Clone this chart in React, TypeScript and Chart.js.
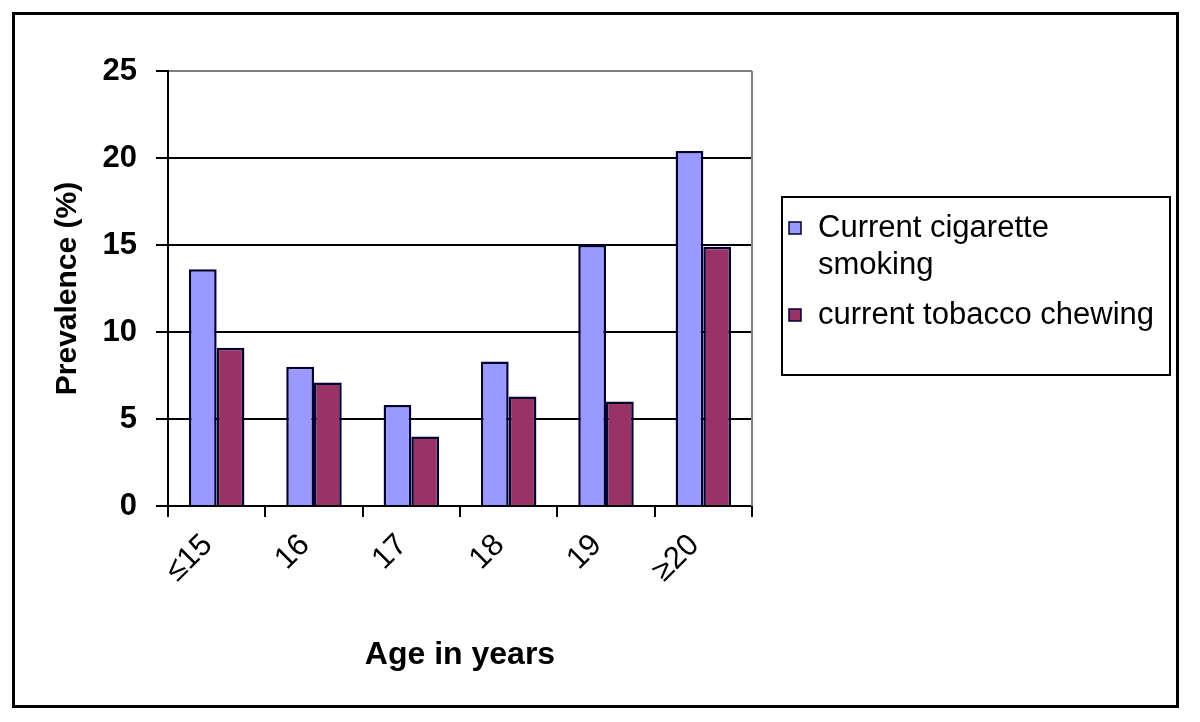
import React, { useEffect, useRef } from "react";
import { Chart, registerables } from "chart.js";

Chart.register(...registerables);

const categories = ["≤15", "16", "17", "18", "19", "≥20"];
const smokingValues = [13.6, 8.0, 5.8, 8.3, 15.0, 20.4];
const chewingValues = [9.1, 7.1, 4.0, 6.3, 6.0, 14.9];
const seriesNames = ["Current cigarette smoking", "current tobacco chewing"];
const seriesColors = ["#9999FF", "#993366"];
const yTicks = [0, 5, 10, 15, 20, 25];

const FONT = "'Liberation Sans', Arial, sans-serif";

const framePlugin = {
  id: "frameAndLegend",
  beforeDraw(chart: any) {
    const { ctx, width, height } = chart;
    ctx.save();
    ctx.fillStyle = "#ffffff";
    ctx.fillRect(0, 0, width, height);
    ctx.restore();
  },
  afterDraw(chart: any) {
    const { ctx, chartArea } = chart;
    ctx.save();
    // gray right border of plot area
    ctx.strokeStyle = "#808080";
    ctx.lineWidth = 2;
    ctx.beginPath();
    ctx.moveTo(chartArea.right, chartArea.top);
    ctx.lineTo(chartArea.right, chartArea.bottom);
    ctx.stroke();

    // outer frame
    ctx.strokeStyle = "#000000";
    ctx.lineWidth = 3;
    ctx.strokeRect(13.5, 13.5, 1164, 693);

    // legend box
    const lx = 782, ly = 197, lw = 388, lh = 178;
    ctx.lineWidth = 2;
    ctx.strokeRect(lx, ly, lw, lh);

    ctx.font = `31px ${FONT}`;
    ctx.textBaseline = "middle";
    ctx.textAlign = "left";
    const textX = 818;
    const maxW = 345;
    const lineH = 37;
    let y = 228;
    chart.data.datasets.forEach((ds: any) => {
      const words = String(ds.label).split(" ");
      const lines: string[] = [];
      let cur = "";
      words.forEach((w) => {
        const test = cur ? cur + " " + w : w;
        if (ctx.measureText(test).width > maxW && cur) {
          lines.push(cur);
          cur = w;
        } else cur = test;
      });
      if (cur) lines.push(cur);
      // swatch
      ctx.fillStyle = ds.backgroundColor;
      ctx.fillRect(789, y - 6, 12, 12);
      ctx.strokeStyle = "#000033";
      ctx.lineWidth = 1.5;
      ctx.strokeRect(789, y - 6, 12, 12);
      ctx.fillStyle = "#000000";
      lines.forEach((ln, k) => {
        ctx.fillText(ln, textX, y + k * lineH);
      });
      y += lines.length * lineH + 13;
    });
    ctx.restore();
  },
};

export default function App() {
  const canvasRef = useRef<HTMLCanvasElement | null>(null);

  useEffect(() => {
    if (!canvasRef.current) return;
    const chart = new Chart(canvasRef.current, {
      type: "bar",
      data: {
        labels: categories,
        datasets: [
          {
            label: seriesNames[0],
            data: smokingValues,
            backgroundColor: seriesColors[0],
            borderColor: "#000033",
            borderWidth: 2.5,
          },
          {
            label: seriesNames[1],
            data: chewingValues,
            backgroundColor: seriesColors[1],
            borderColor: "#000033",
            borderWidth: 2.5,
          },
        ],
      },
      options: {
        animation: false,
        responsive: true,
        maintainAspectRatio: false,
        devicePixelRatio: 1,
        layout: { padding: { left: 0, top: 71, right: 448, bottom: 0 } },
        datasets: {
          bar: { categoryPercentage: 0.57, barPercentage: 1.0 },
        },
        plugins: {
          legend: { display: false },
          tooltip: { enabled: false },
        },
        scales: {
          x: {
            afterFit: (s: any) => {
              s.height = 216;
            },
            grid: {
              offset: true,
              drawOnChartArea: false,
              color: "#000000",
              lineWidth: 2,
              tickLength: 11,
            },
            border: { color: "#000000", width: 2 },
            ticks: {
              minRotation: 45,
              maxRotation: 45,
              color: "#000000",
              padding: 10,
              labelOffset: -9,
              font: { family: FONT, size: 31 },
            },
            title: {
              display: true,
              text: "Age in years",
              color: "#000000",
              font: { family: FONT, size: 32, weight: "bold" },
              padding: { top: 0, bottom: 48 },
            },
          },
          y: {
            min: 0,
            max: 25,
            afterFit: (s: any) => {
              s.width = 168;
            },
            afterBuildTicks: (s: any) => {
              s.ticks = yTicks.map((v) => ({ value: v }));
            },
            grid: {
              color: (c: any) => (c.tick && c.tick.value === 25 ? "#808080" : "#000000"),
              tickColor: "#000000",
              lineWidth: 2,
              tickLength: 12,
            },
            border: { color: "#000000", width: 2 },
            ticks: {
              color: "#000000",
              padding: 19,
              font: { family: FONT, size: 31, weight: "bold" },
            },
            title: {
              display: true,
              text: "Prevalence (%)",
              color: "#000000",
              font: { family: FONT, size: 30, weight: "bold" },
              padding: { top: 50, bottom: 0 },
            },
          },
        },
      },
      plugins: [framePlugin],
    } as any);
    return () => chart.destroy();
  }, []);

  return (
    <div
      style={{
        position: "absolute",
        left: 0,
        top: 0,
        width: 1200,
        height: 722,
        background: "#ffffff",
      }}
    >
      <canvas ref={canvasRef} />
    </div>
  );
}
